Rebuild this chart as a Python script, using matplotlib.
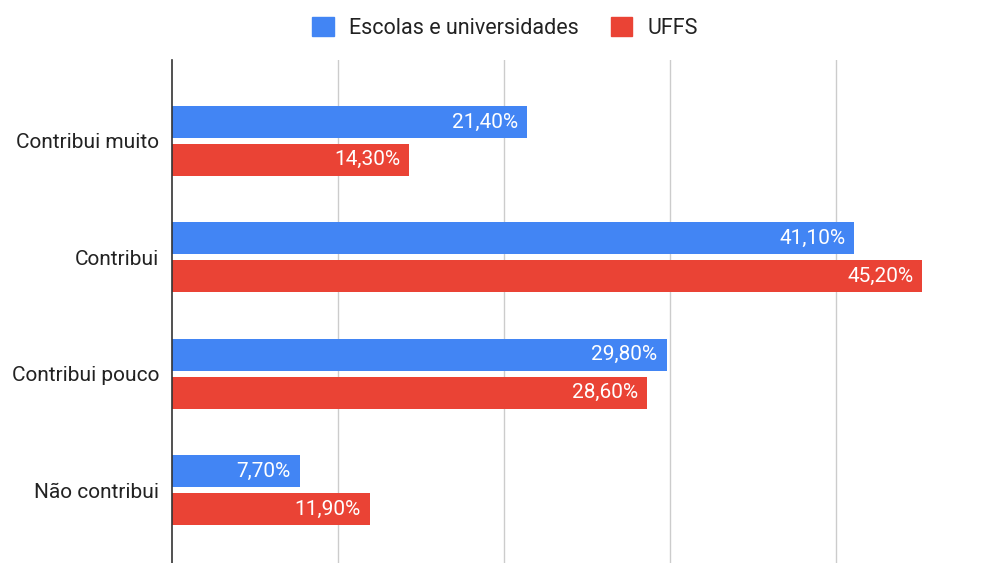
import matplotlib
matplotlib.use("Agg")
import matplotlib.pyplot as plt
import numpy as np

categories = ["Contribui muito", "Contribui", "Contribui pouco", "Não contribui"]
escolas = [21.4, 41.1, 29.8, 7.7]
uffs = [14.3, 45.2, 28.6, 11.9]
series_names = ["Escolas e universidades", "UFFS"]
colors = ["#4285F4", "#EA4335"]

plt.rcParams["font.family"] = ["Roboto", "DejaVu Sans"]

W, H = 991, 563
fig = plt.figure(figsize=(W / 100, H / 100), dpi=100)
ax = fig.add_axes([172 / W, 0, 1 - 172 / W, 503 / H])

y = np.arange(len(categories))
h = 0.275
off = 0.163
for vals, sign, col in [(escolas, -1, colors[0]), (uffs, 1, colors[1])]:
    bars = ax.barh(y + sign * off, vals, height=h, color=col, zorder=3)
    for b, v in zip(bars, vals):
        ax.text(v - 0.55, b.get_y() + b.get_height() / 2,
                f"{v:.2f}%".replace(".", ","), ha="right", va="center",
                color="white", fontsize=15, zorder=4)

ax.set_xlim(0, 819 / 166 * 10)
ax.set_ylim(3.627, -0.695)
ax.set_xticks([10, 20, 30, 40])
ax.set_xticklabels([])
ax.tick_params(axis="x", length=0)
ax.grid(axis="x", color="#cccccc", linewidth=1, zorder=0)
ax.set_yticks(y)
ax.set_yticklabels(categories, fontsize=15, color="#222222")
ax.tick_params(axis="y", length=0, pad=9)
for s in ["top", "right", "bottom"]:
    ax.spines[s].set_visible(False)
ax.spines["left"].set_color("#333333")
ax.spines["left"].set_linewidth(1.2)
ax.spines["left"].set_zorder(5)

handles = [plt.Rectangle((0, 0), 1, 1, color=c) for c in colors]
fig.legend(handles, series_names, loc="center", bbox_to_anchor=(505 / W, 1 - 28 / H),
           ncol=2, frameon=False, fontsize=15.5, handlelength=1.0, handleheight=1.0,
           handletextpad=0.7, columnspacing=1.5, labelcolor="#222222")

fig.savefig("out.png", dpi=100)
